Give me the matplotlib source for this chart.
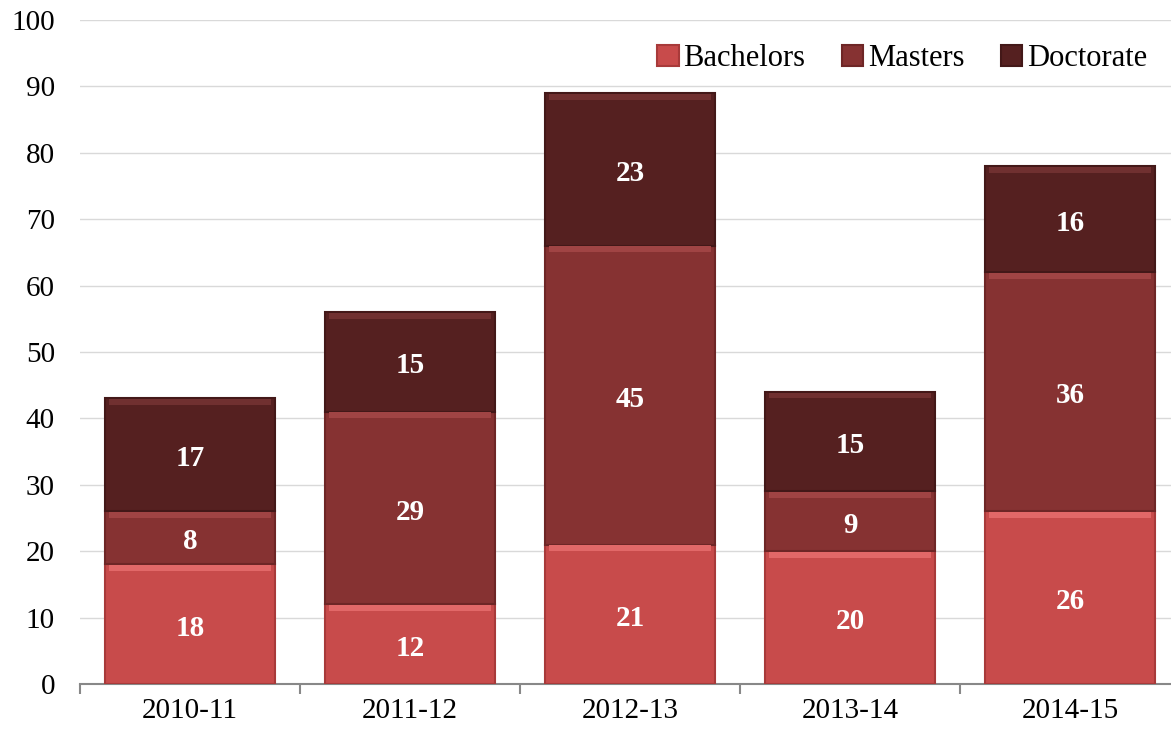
import matplotlib
matplotlib.use('Agg')
import matplotlib.pyplot as plt
import numpy as np

years = ['2010-11', '2011-12', '2012-13', '2013-14', '2014-15']
bachelors = [18, 12, 21, 20, 26]
masters = [8, 29, 45, 9, 36]
doctorate = [17, 15, 23, 15, 16]

tags = ['Bachelors', 'Masters', 'Doctorate']
colors = ['#C84B4B', '#863232', '#552020']
lights = ['#E26868', '#A04444', '#703030']
darks = ['#A83A3A', '#6E2626', '#431818']

plt.rcParams['font.family'] = ['Liberation Serif', 'DejaVu Serif']

fig = plt.figure(figsize=(11.71, 7.36), dpi=100)
ax = fig.add_axes([80 / 1171, 52 / 736, 1100 / 1171, 664 / 736])

x = np.arange(len(years))
w = 0.77
series = [bachelors, masters, doctorate]
bottom = np.zeros(len(years))
for i, vals in enumerate(series):
    vals = np.array(vals, dtype=float)
    ax.bar(x, vals, w, bottom=bottom, color=colors[i], label=tags[i],
           edgecolor=darks[i], linewidth=1.5, zorder=3)
    # bevel highlight at the top of each segment
    ax.bar(x, np.full(len(years), 0.9), w - 0.03, bottom=bottom + vals - 1.0,
           color=lights[i], linewidth=0, zorder=4)
    for xi, b, v in zip(x, bottom, vals):
        ax.text(xi, b + v / 2 - 0.6, str(int(v)), ha='center', va='center',
                color='white', fontsize=21, fontweight='bold', zorder=5)
    bottom = bottom + vals

ax.set_xlim(-0.5, len(years) - 0.5)
ax.set_ylim(0, 100)
ax.set_yticks(range(0, 101, 10))
ax.set_xticks(x)
ax.set_xticklabels(years)
ax.set_xticks(np.arange(-0.5, len(years), 1), minor=True)
ax.tick_params(axis='x', which='major', length=0, pad=10, labelsize=21)
ax.tick_params(axis='x', which='minor', length=7, color='#888888', width=1.5)
ax.tick_params(axis='y', length=0, pad=18, labelsize=21)
ax.grid(axis='y', color='#D9D9D9', linewidth=1, zorder=0)
for s in ['top', 'right', 'left']:
    ax.spines[s].set_visible(False)
ax.spines['bottom'].set_color('#888888')
ax.spines['bottom'].set_linewidth(1.5)

ax.legend(loc='upper right', bbox_to_anchor=(0.995, 1.005), ncol=3, frameon=False,
          fontsize=22, handlelength=0.7, handleheight=0.7, handletextpad=0.15,
          columnspacing=1.2)

fig.savefig('out.png', dpi=100)
